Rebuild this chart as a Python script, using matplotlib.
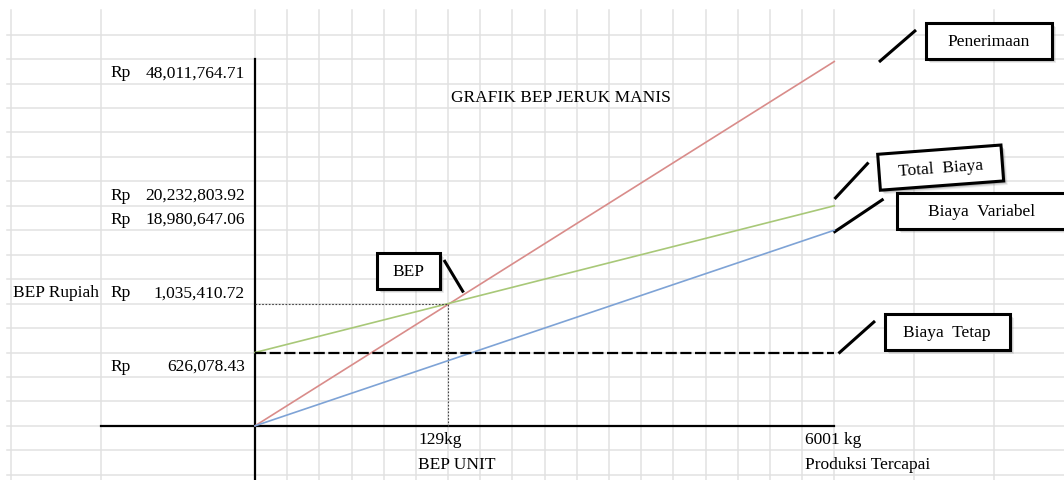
import numpy as np
import matplotlib
matplotlib.use("Agg")
import matplotlib.pyplot as plt
from matplotlib.patches import Rectangle

plt.rcParams['font.family'] = ['Liberation Serif', 'DejaVu Serif']

# data (read from the sheet)
qty_kg = [0, 129, 6001]                 # awal, BEP unit, produksi tercapai
penerimaan = [0, 48011764.71]
total_biaya = [626078.43, 20232803.92]
biaya_variabel = [0, 18980647.06]
biaya_tetap = [626078.43, 626078.43]
bep_rupiah = 1035410.72
rp_labels = [48011764.71, 20232803.92, 18980647.06, 1035410.72, 626078.43]

# schematic scale of the sheet: value -> cell rows / columns
x_vals = [0, 129, 6001]
x_cols = [0, 6, 18]
y_vals = [0, 626078.43, 1035410.72, 18980647.06, 20232803.92, 48011764.71]
y_rows = [0, 3, 5, 8, 9, 14.9]

W, H = 1064, 481
row_h, col_w = 24.45, 32.18
row0 = 11.2
x0 = 255.0
y_axis = row0 + 17 * row_h

fig = plt.figure(figsize=(W / 100, H / 100), dpi=100)
bg = fig.add_axes([0, 0, 1, 1])
bg.set_xlim(0, W)
bg.set_ylim(H, 0)
bg.axis('off')

# sheet grid
vx = [10.7, 100.7] + [x0 + col_w * k for k in range(19)] + [914.3, 994.0]
for x in vx:
    bg.plot([x, x], [row0, H], color='#e1e1e1', lw=1.1, zorder=0)
for k in range(1, 20):
    y = row0 + row_h * k
    bg.plot([7, W], [y, y], color='#e1e1e1', lw=1.1, zorder=0)

# chart axes with the sheet's schematic scale
ax = fig.add_axes([x0 / W, (H - y_axis) / H, 18 * col_w / W, 14.9 * row_h / H])
ax.patch.set_alpha(0)
ax.set_xscale('function', functions=(lambda v: np.interp(v, x_vals, x_cols),
                                     lambda c: np.interp(c, x_cols, x_vals)))
ax.set_yscale('function', functions=(lambda v: np.interp(v, y_vals, y_rows),
                                     lambda r: np.interp(r, y_rows, y_vals)))
ax.set_xlim(0, 6001)
ax.set_ylim(0, 48011764.71)
ax.axis('off')

ends = [qty_kg[0], qty_kg[2]]
ax.plot(ends, penerimaan, color='#d98c8a', lw=1.2, clip_on=False)
ax.plot(ends, total_biaya, color='#a8c878', lw=1.2, clip_on=False)
ax.plot(ends, biaya_variabel, color='#7ea3d6', lw=1.2, clip_on=False)
ax.plot(ends, biaya_tetap, color='black', lw=1.6, ls=(0, (5, 1.6)), clip_on=False)
ax.plot([0, qty_kg[1], qty_kg[1]], [bep_rupiah, bep_rupiah, 0],
        color='#444444', lw=0.8, ls=(0, (1.5, 1.5)), clip_on=False)

# axis lines
bg.plot([x0, x0], [row0 + 2 * row_h, H], color='black', lw=1.6, zorder=3)
bg.plot([100.7, x0 + 18 * col_w], [y_axis, y_axis], color='black', lw=1.6, zorder=3)

fs = 12.5
def row_c(k):
    return row0 + row_h * (k + 0.5) + 1

# y labels
label_rows = [2, 7, 8, 11, 14]
for v, r in zip(rp_labels, label_rows):
    bg.text(110, row_c(r), 'Rp', fontsize=fs, va='center', ha='left')
    bg.text(245, row_c(r), f'{v:,.2f}', fontsize=fs, va='center', ha='right')
bg.text(13, row_c(11), 'BEP Rupiah', fontsize=fs, va='center', ha='left')

# x labels
bg.text(418, row_c(17), f'{qty_kg[1]}kg', fontsize=fs, va='center', ha='left')
bg.text(418, row_c(18), 'BEP UNIT', fontsize=fs, va='center', ha='left')
bg.text(805, row_c(17), f'{qty_kg[2]} kg', fontsize=fs, va='center', ha='left')
bg.text(805, row_c(18), 'Produksi Tercapai', fontsize=fs, va='center', ha='left')

bg.text(451, row_c(3), 'GRAFIK BEP JERUK MANIS', fontsize=fs, va='center', ha='left')

# callouts
def callout(x, y, w, h, text, line, angle=0):
    for d, a in [(4, 0.15), (3, 0.25), (2, 0.35)]:
        bg.add_patch(Rectangle((x + d, y + d), w, h, angle=-angle,
                               facecolor='#808080', edgecolor='none', alpha=a, zorder=4))
    bg.add_patch(Rectangle((x, y), w, h, angle=-angle, facecolor='white',
                           edgecolor='black', lw=2.2, zorder=5))
    t = np.radians(angle)
    cx = x + (w / 2) * np.cos(t) + (h / 2) * np.sin(t)
    cy = y - (w / 2) * np.sin(t) + (h / 2) * np.cos(t)
    bg.text(cx, cy, text, fontsize=fs, ha='center', va='center',
            rotation=angle, rotation_mode='anchor', zorder=6)
    bg.plot(line[0], line[1], color='black', lw=2.2, solid_capstyle='butt', zorder=6)

callout(926, 23.5, 126, 36, 'Penerimaan', ([879, 916], [63, 31]))
callout(877.7, 155.3, 123.6, 36, 'Total  Biaya', ([834.5, 868.5], [200, 163.5]), angle=4.3)
callout(897, 193.5, 170, 36.5, 'Biaya  Variabel', ([833.5, 883.5], [233.5, 200]))
callout(884.5, 314.5, 125, 36.5, 'Biaya  Tetap', ([838.5, 875], [354.5, 322]))
callout(377, 253.5, 63, 36.5, 'BEP', ([444, 463.5], [261, 293.5]))

fig.savefig('out.png', dpi=100)
